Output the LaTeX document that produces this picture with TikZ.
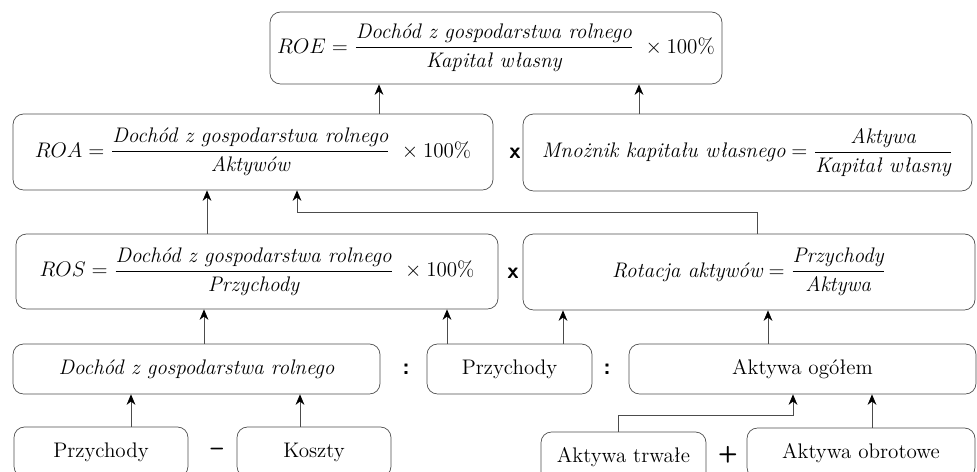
\documentclass[tikz,border=0pt]{standalone}
\usepackage{amsmath}
\usepackage{tikz}
\usetikzlibrary{arrows.meta,positioning}
\tikzset{
  box/.style   = {draw=black!70, rounded corners=6pt, align=center, inner sep=2pt,
                  font=\fontsize{12}{14}\selectfont},
  conn/.style  = {black!70, -{Stealth[length=6pt,width=5pt,black]}},
  plain/.style = {black!70},
  op/.style    = {font=\sffamily\bfseries\fontsize{13}{15}\selectfont},
}
\newcommand{\wt}[1]{\text{\itshape #1}}

\begin{document}
\begin{tikzpicture}[x=0.02cm,y=-0.02cm]
    \useasboundingbox (0,0) rectangle (977,472);
    \clip (0,0) rectangle (977,472);

    % top row
    \node[box, minimum width=452*0.02cm, minimum height=72*0.02cm] (roe) at (496,48)
      {$ROE=\dfrac{\wt{Dochód z gospodarstwa rolnego}}{\wt{Kapitał własny}}\ \times 100\%$};

    % second row
    \node[box, minimum width=480*0.02cm, minimum height=76*0.02cm] (roa) at (253,152)
      {$ROA=\dfrac{\wt{Dochód z gospodarstwa rolnego}}{\wt{Aktywów}}\ \times 100\%$};
    \node[box, minimum width=449*0.02cm, minimum height=77*0.02cm] (mno) at (747.5,152.5)
      {$\wt{Mnożnik kapitału własnego}=\dfrac{\wt{Aktywa}}{\wt{Kapitał własny}}$};
    \node[op] (x1) at (515,153) {x};

    % third row
    \node[box, minimum width=482*0.02cm, minimum height=75*0.02cm] (ros) at (257,271.5)
      {$ROS=\dfrac{\wt{Dochód z gospodarstwa rolnego}}{\wt{Przychody}}\ \times 100\%$};
    \node[box, minimum width=452*0.02cm, minimum height=76*0.02cm] (rot) at (749,272)
      {$\wt{Rotacja aktywów}=\dfrac{\wt{Przychody}}{\wt{Aktywa}}$};
    \node[op] (x2) at (513,273) {x};

    % fourth row
    \node[box, minimum width=367*0.02cm, minimum height=50*0.02cm] (doch) at (196.5,369)
      {\itshape Dochód z gospodarstwa rolnego};
    \node[box, minimum width=165*0.02cm, minimum height=50*0.02cm] (prz) at (509.5,369) {Przychody};
    \node[box, minimum width=347*0.02cm, minimum height=50*0.02cm] (akt) at (802.5,369) {Aktywa ogółem};
    \node[op] (d1) at (406,369) {:};
    \node[op] (d2) at (607,369) {:};

    % bottom row
    \node[box, minimum width=174*0.02cm, minimum height=50*0.02cm] (prz2) at (101,452) {Przychody};
    \node[box, minimum width=154*0.02cm, minimum height=50*0.02cm] (kosz) at (314,452) {Koszty};
    \node[box, minimum width=165*0.02cm, minimum height=50*0.02cm] (trw) at (623.5,457) {Aktywa trwałe};
    \node[box, minimum width=228*0.02cm, minimum height=50*0.02cm] (obr) at (861,453) {Aktywa obrotowe};
    \node[op] (minus) at (217,452) {--};
    \node[op] (plus) at (728,455) {+};

    % x positions of the connectors
    \coordinate (a1) at (379,0);
    \coordinate (a2) at (639,0);
    \coordinate (a3) at (207,0);
    \coordinate (a4) at (297,0);
    \coordinate (a5) at (757,0);
    \coordinate (a6) at (204,0);
    \coordinate (a7) at (447,0);
    \coordinate (a8) at (563,0);
    \coordinate (a9) at (768,0);
    \coordinate (a10) at (131,0);
    \coordinate (a11) at (300,0);
    \coordinate (a12) at (618,0);
    \coordinate (a13) at (793,0);
    \coordinate (a14) at (872,0);

    \draw[conn] (roa.north -| a1) -- (roe.south -| a1);
    \draw[conn] (mno.north -| a2) -- (roe.south -| a2);
    \draw[conn] (ros.north -| a3) -- (roa.south -| a3);
    \draw[conn] (rot.north -| a5) -- ++(0,-21) -| (roa.south -| a4);
    \draw[conn] (doch.north -| a6) -- (ros.south -| a6);
    \draw[conn] (prz.north -| a7) -- (ros.south -| a7);
    \draw[conn] (prz.north -| a8) -- (rot.south -| a8);
    \draw[conn] (akt.north -| a9) -- (rot.south -| a9);
    \draw[conn] (prz2.north -| a10) -- (doch.south -| a10);
    \draw[conn] (kosz.north -| a11) -- (doch.south -| a11);
    \draw[conn] (trw.north -| a12) -- ++(0,-16) -| (akt.south -| a13);
    \draw[conn] (obr.north -| a14) -- (akt.south -| a14);
\end{tikzpicture}
\end{document}
